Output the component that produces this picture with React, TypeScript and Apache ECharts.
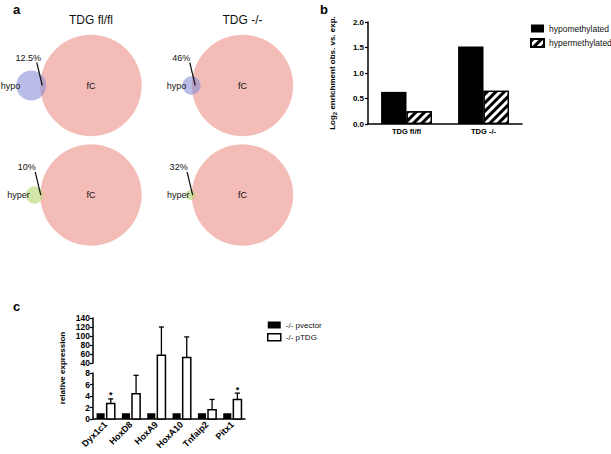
import React, { useEffect, useRef } from 'react';
import * as echarts from 'echarts';

const FONT = 'Liberation Sans';

// ---------- Panel a : Venn diagrams ----------
const vennColumns = ['TDG fl/fl', 'TDG -/-'];
const vennRows = ['hypo', 'hyper'];
const vennBigLabel = 'fC';
const overlapPercent = [
  [12.5, 46],
  [10, 32],
];
const percentLabels = [
  ['12.5%', '46%'],
  ['10%', '32%'],
];
const smallSetRadius = [
  [15, 9.2],
  [8.7, 5],
];
const fcRadius = [
  [50.7, 50.7],
  [50.7, 50.7],
];

// ---------- Panel b : enrichment ----------
const bCategories = ['TDG fl/fl', 'TDG -/-'];
const hypomethylated = [0.63, 1.52];
const hypermethylated = [0.25, 0.65];
const bAxisMin = 0;
const bAxisMax = 2;
const bAxisStep = 0.5;

// ---------- Panel c : relative expression ----------
const genes = ['Dyx1c1', 'HoxD8', 'HoxA9', 'HoxA10', 'Tnfaip2', 'Pitx1'];
const pvector = [1, 1, 1, 1, 1, 1];
const pTDG = [2.7, 4.4, 57, 52, 1.6, 3.4];
const pTDGErrorTop = [3.5, 7.6, 120, 98, 3.4, 4.5];
const significant = [1, 0, 0, 0, 0, 1];
const lowerRange = [0, 8];
const lowerStep = 2;
const upperRange = [40, 140];
const upperStep = 20;

// ---------- layout constants ----------
const A_COL_X = [91, 242.5];
const A_ROW_Y = [85.5, 195];
const PINK = '#f3bcb7';
const BLUE = 'rgba(137,143,213,0.6)';
const GREEN = 'rgba(180,213,113,0.6)';

const C_LEFT = 93;
const C_WIDTH = 152;
const C_UP_TOP = 318;
const C_UP_H = 45;
const C_GAP = 10;
const C_LOW_TOP = C_UP_TOP + C_UP_H + C_GAP;
const C_LOW_H = 46;
const BAR_FRAC = 0.32;
const OFF_FRAC = 0.2;
const CAP_FRAC = 0.2;

function lensArea(d: number, r: number, R: number) {
  if (d >= r + R) return 0;
  if (d <= R - r) return Math.PI * r * r;
  const a1 = Math.acos((d * d + r * r - R * R) / (2 * d * r));
  const a2 = Math.acos((d * d + R * R - r * r) / (2 * d * R));
  return (
    r * r * a1 +
    R * R * a2 -
    0.5 * Math.sqrt((-d + r + R) * (d + r - R) * (d - r + R) * (d + r + R))
  );
}
function centerDistance(frac: number, r: number, R: number) {
  const target = frac * Math.PI * r * r;
  let lo = R - r;
  let hi = R + r;
  for (let k = 0; k < 60; k++) {
    const mid = (lo + hi) / 2;
    if (lensArea(mid, r, R) > target) lo = mid;
    else hi = mid;
  }
  return (lo + hi) / 2;
}

const txt = (extra: any) => ({
  fontFamily: FONT,
  fill: '#111',
  textFill: '#111',
  ...extra,
});

function buildOption(): any {
  const vennData: number[][] = [];
  vennRows.forEach((_, r) =>
    vennColumns.forEach((__, c) =>
      vennData.push([A_COL_X[c], A_ROW_Y[r], fcRadius[r][c], smallSetRadius[r][c], overlapPercent[r][c], r, c])
    )
  );

  const vennRender = (params: any, api: any) => {
    const cx = api.value(0);
    const cy = api.value(1);
    const R = api.value(2);
    const r = api.value(3);
    const p = api.value(4);
    const row = api.value(5);
    const col = api.value(6);
    const d = centerDistance(p / 100, r, R);
    const c = api.coord([cx, cy]);
    const s = api.coord([cx - d, cy]);
    const Rp = api.size([R, 0])[0];
    const rp = api.size([r, 0])[0];
    const ox = (c[0] - Rp + s[0] + rp) / 2;
    return {
      type: 'group',
      children: [
        { type: 'circle', shape: { cx: c[0], cy: c[1], r: Rp }, style: { fill: PINK } },
        { type: 'circle', shape: { cx: s[0], cy: s[1], r: rp }, style: { fill: row === 0 ? BLUE : GREEN } },
        {
          type: 'text',
          x: c[0],
          y: c[1],
          style: txt({ text: vennBigLabel, fontSize: 9, textAlign: 'center', textVerticalAlign: 'middle' }),
        },
        {
          type: 'text',
          x: s[0] - rp + 4,
          y: c[1],
          style: txt({ text: vennRows[row], fontSize: 9, textAlign: 'right', textVerticalAlign: 'middle' }),
        },
        {
          type: 'text',
          x: ox - 15,
          y: c[1] - 28,
          style: txt({ text: percentLabels[row][col], fontSize: 9, textAlign: 'center', textVerticalAlign: 'middle' }),
        },
        {
          type: 'line',
          shape: { x1: ox - 6.5, y1: c[1] - 23, x2: ox - 1, y2: c[1] },
          style: { stroke: '#111', lineWidth: 1.2 },
        },
      ],
    };
  };

  const cData = genes.map((_, i) => [i, pTDG[i], pTDGErrorTop[i], significant[i]]);
  const pvData = genes.map((_, i) => [i, pvector[i]]);

  const pvRender = (params: any, api: any) => {
    const i = api.value(0);
    const v = api.value(1);
    const band = api.size([1, 0])[0];
    const b = api.coord([i, 0]);
    const t = api.coord([i, v]);
    const bw = band * BAR_FRAC;
    const cx = b[0] - band * OFF_FRAC;
    return {
      type: 'rect',
      shape: { x: cx - bw / 2, y: t[1], width: bw, height: b[1] - t[1] },
      style: { fill: '#000' },
    };
  };

  const tdgLowerRender = (params: any, api: any) => {
    const i = api.value(0);
    const v = api.value(1);
    const cs = params.coordSys;
    const band = api.size([1, 0])[0];
    const b = api.coord([i, 0]);
    const t = api.coord([i, v]);
    const bw = band * BAR_FRAC;
    const cx = b[0] + band * OFF_FRAC;
    const l = cx - bw / 2;
    const r = cx + bw / 2;
    if (t[1] >= cs.y) {
      return {
        type: 'rect',
        shape: { x: l, y: t[1], width: bw, height: b[1] - t[1] },
        style: { fill: '#fff', stroke: '#000', lineWidth: 1.5 },
      };
    }
    const ty = cs.y - C_GAP;
    return {
      type: 'group',
      children: [
        { type: 'rect', shape: { x: l, y: ty, width: bw, height: b[1] - ty }, style: { fill: '#fff' } },
        {
          type: 'polyline',
          shape: { points: [[l, ty], [l, b[1]], [r, b[1]], [r, ty]] },
          style: { fill: null, stroke: '#000', lineWidth: 1.5 },
        },
      ],
    };
  };

  const tdgUpperRender = (params: any, api: any) => {
    const i = api.value(0);
    const v = api.value(1);
    if (v < upperRange[0]) return null;
    const cs = params.coordSys;
    const band = api.size([1, 0])[0];
    const t = api.coord([i, v]);
    const bottom = cs.y + cs.height;
    const bw = band * BAR_FRAC;
    const cx = t[0] + band * OFF_FRAC;
    const l = cx - bw / 2;
    const r = cx + bw / 2;
    return {
      type: 'group',
      children: [
        { type: 'rect', shape: { x: l, y: t[1], width: bw, height: bottom - t[1] }, style: { fill: '#fff' } },
        {
          type: 'polyline',
          shape: { points: [[l, bottom], [l, t[1]], [r, t[1]], [r, bottom]] },
          style: { fill: null, stroke: '#000', lineWidth: 1.5 },
        },
      ],
    };
  };

  const errRender = (upper: boolean) => (params: any, api: any) => {
    const i = api.value(0);
    const v = api.value(1);
    const e = api.value(2);
    const sig = api.value(3);
    if (upper ? v < upperRange[0] : e > lowerRange[1]) return null;
    const band = api.size([1, 0])[0];
    const t = api.coord([i, v]);
    const et = api.coord([i, e]);
    const cx = t[0] + band * OFF_FRAC;
    const cw = band * CAP_FRAC;
    const children: any[] = [
      { type: 'line', shape: { x1: cx, y1: t[1], x2: cx, y2: et[1] }, style: { stroke: '#000', lineWidth: 1.3 } },
      {
        type: 'line',
        shape: { x1: cx - cw / 2, y1: et[1], x2: cx + cw / 2, y2: et[1] },
        style: { stroke: '#000', lineWidth: 1.3 },
      },
    ];
    if (sig) {
      children.push({
        type: 'text',
        x: cx,
        y: et[1] + 1,
        style: txt({ text: '*', fontSize: 9, fontWeight: 'bold', fill: '#000', textFill: '#000', textAlign: 'center', textVerticalAlign: 'bottom' }),
      });
    }
    return { type: 'group', children };
  };

  const axisLine = { show: true, lineStyle: { color: '#000', width: 1.5 } };
  const yTick = { show: true, length: 3, lineStyle: { color: '#000', width: 1.2 } };

  return {
    animation: false,
    backgroundColor: '#fff',
    textStyle: { fontFamily: FONT },
    grid: [
      { left: 0, top: 0, width: 320, height: 260 },
      { left: 368, top: 22, width: 154, height: 102 },
      { left: C_LEFT, top: C_UP_TOP, width: C_WIDTH, height: C_UP_H },
      { left: C_LEFT, top: C_LOW_TOP, width: C_WIDTH, height: C_LOW_H },
    ],
    xAxis: [
      { gridIndex: 0, type: 'value', min: 0, max: 320, show: false },
      {
        gridIndex: 1,
        type: 'category',
        data: bCategories,
        axisLine,
        axisTick: { show: false },
        axisLabel: { color: '#000', fontSize: 7.5, fontWeight: 'bold', margin: 3, fontFamily: FONT },
      },
      { gridIndex: 2, type: 'category', data: genes, show: false },
      {
        gridIndex: 3,
        type: 'category',
        data: genes,
        axisLine,
        axisTick: { show: false },
        axisLabel: {
          color: '#000',
          fontSize: 9,
          fontWeight: 'bold',
          rotate: 45,
          interval: 0,
          margin: 4,
          fontFamily: FONT,
        },
      },
    ],
    yAxis: [
      { gridIndex: 0, type: 'value', min: 0, max: 260, inverse: true, show: false },
      {
        gridIndex: 1,
        type: 'value',
        min: bAxisMin,
        max: bAxisMax,
        interval: bAxisStep,
        axisLine,
        axisTick: yTick,
        splitLine: { show: false },
        axisLabel: {
          color: '#000',
          fontSize: 8,
          fontWeight: 'bold',
          margin: 4,
          fontFamily: FONT,
          formatter: (v: number) => v.toFixed(1),
        },
        name: 'Log{sub|2} enrichment obs. vs. exp.',
        nameLocation: 'middle',
        nameGap: 30,
        nameTextStyle: {
          color: '#000',
          fontSize: 8,
          fontWeight: 'bold',
          fontFamily: FONT,
          lineHeight: 11,
          rich: {
            sub: { fontSize: 6, fontWeight: 'bold', fontFamily: FONT, color: '#000', verticalAlign: 'bottom', lineHeight: 8 },
          },
        },
      },
      {
        gridIndex: 2,
        type: 'value',
        min: upperRange[0],
        max: upperRange[1],
        interval: upperStep,
        axisLine,
        axisTick: yTick,
        splitLine: { show: false },
        axisLabel: { color: '#000', fontSize: 8.5, fontWeight: 'bold', margin: 3, fontFamily: FONT },
      },
      {
        gridIndex: 3,
        type: 'value',
        min: lowerRange[0],
        max: lowerRange[1],
        interval: lowerStep,
        axisLine,
        axisTick: yTick,
        splitLine: { show: false },
        axisLabel: { color: '#000', fontSize: 8.5, fontWeight: 'bold', margin: 3, fontFamily: FONT },
      },
    ],
    legend: [
      {
        left: 530,
        top: 24,
        orient: 'vertical',
        padding: 0,
        itemWidth: 13,
        itemHeight: 8,
        itemGap: 5,
        icon: 'rect',
        textStyle: { fontSize: 8.5, color: '#111', fontFamily: FONT },
        data: ['hypomethylated', 'hypermethylated'],
      },
      {
        left: 267,
        top: 321,
        orient: 'vertical',
        padding: 0,
        itemWidth: 13,
        itemHeight: 7,
        itemGap: 4,
        icon: 'rect',
        textStyle: { fontSize: 8, color: '#111', fontFamily: FONT },
        data: [
          { name: '-/- pvector', itemStyle: { color: '#000' } },
          { name: '-/- pTDG', itemStyle: { color: '#fff', borderColor: '#000', borderWidth: 1.5 } },
        ],
      },
    ],
    graphic: [
      { type: 'text', x: 16.5, y: 9, style: { text: 'a', fill: '#000', fontSize: 13, fontWeight: 'bold', fontFamily: FONT, textAlign: 'center', textVerticalAlign: 'middle' } },
      { type: 'text', x: 324, y: 9, style: { text: 'b', fill: '#000', fontSize: 13, fontWeight: 'bold', fontFamily: FONT, textAlign: 'center', textVerticalAlign: 'middle' } },
      { type: 'text', x: 16.5, y: 306.5, style: { text: 'c', fill: '#000', fontSize: 13, fontWeight: 'bold', fontFamily: FONT, textAlign: 'center', textVerticalAlign: 'middle' } },
      ...vennColumns.map((t, c) => ({
        type: 'text',
        x: A_COL_X[c],
        y: 20,
        style: { text: t, fill: '#111', fontSize: 12, fontFamily: FONT, textAlign: 'center', textVerticalAlign: 'middle' },
      })),
      {
        type: 'text',
        x: 62,
        y: 368,
        rotation: Math.PI / 2,
        style: { text: 'relative expression', fill: '#000', fontSize: 8, fontWeight: 'bold', fontFamily: FONT, textAlign: 'center', textVerticalAlign: 'middle' },
      },
    ],
    series: [
      {
        type: 'custom',
        name: 'venn',
        xAxisIndex: 0,
        yAxisIndex: 0,
        data: vennData,
        renderItem: vennRender,
        silent: true,
      },
      {
        type: 'bar',
        name: 'hypomethylated',
        xAxisIndex: 1,
        yAxisIndex: 1,
        data: hypomethylated,
        barGap: '0%',
        barCategoryGap: '34%',
        itemStyle: { color: '#000' },
      },
      {
        type: 'bar',
        name: 'hypermethylated',
        xAxisIndex: 1,
        yAxisIndex: 1,
        data: hypermethylated,
        barGap: '0%',
        barCategoryGap: '34%',
        itemStyle: {
          color: '#fff',
          borderColor: '#000',
          borderWidth: 1.2,
          decal: {
            symbol: 'rect',
            symbolSize: 1,
            color: '#000',
            backgroundColor: 'rgba(0,0,0,0)',
            dashArrayX: [1, 0],
            dashArrayY: [3, 3],
            rotation: -Math.PI / 4,
          },
        },
      },
      {
        type: 'custom',
        name: '-/- pvector',
        xAxisIndex: 3,
        yAxisIndex: 3,
        data: pvData,
        itemStyle: { color: '#000' },
        renderItem: pvRender,
      },
      {
        type: 'custom',
        name: '-/- pTDG',
        xAxisIndex: 3,
        yAxisIndex: 3,
        data: cData,
        itemStyle: { color: '#fff', borderColor: '#000', borderWidth: 1.5 },
        renderItem: tdgLowerRender,
        z: 3,
      },
      {
        type: 'custom',
        name: '-/- pTDG',
        xAxisIndex: 2,
        yAxisIndex: 2,
        data: cData,
        itemStyle: { color: '#fff', borderColor: '#000', borderWidth: 1.5 },
        renderItem: tdgUpperRender,
        z: 3,
      },
      {
        type: 'custom',
        name: 'err-lower',
        xAxisIndex: 3,
        yAxisIndex: 3,
        data: cData,
        itemStyle: { color: '#000' },
        renderItem: errRender(false),
        z: 4,
      },
      {
        type: 'custom',
        name: 'err-upper',
        xAxisIndex: 2,
        yAxisIndex: 2,
        data: cData,
        itemStyle: { color: '#000' },
        renderItem: errRender(true),
        z: 4,
      },
    ],
  };
}

export default function App() {
  const ref = useRef<HTMLDivElement>(null);
  useEffect(() => {
    if (!ref.current) return;
    const chart = echarts.init(ref.current, null, { renderer: 'svg' });
    chart.setOption(buildOption());
    return () => chart.dispose();
  }, []);
  return (
    <div
      ref={ref}
      style={{ position: 'absolute', left: 0, top: 0, width: 611, height: 454, background: '#fff' }}
    />
  );
}
